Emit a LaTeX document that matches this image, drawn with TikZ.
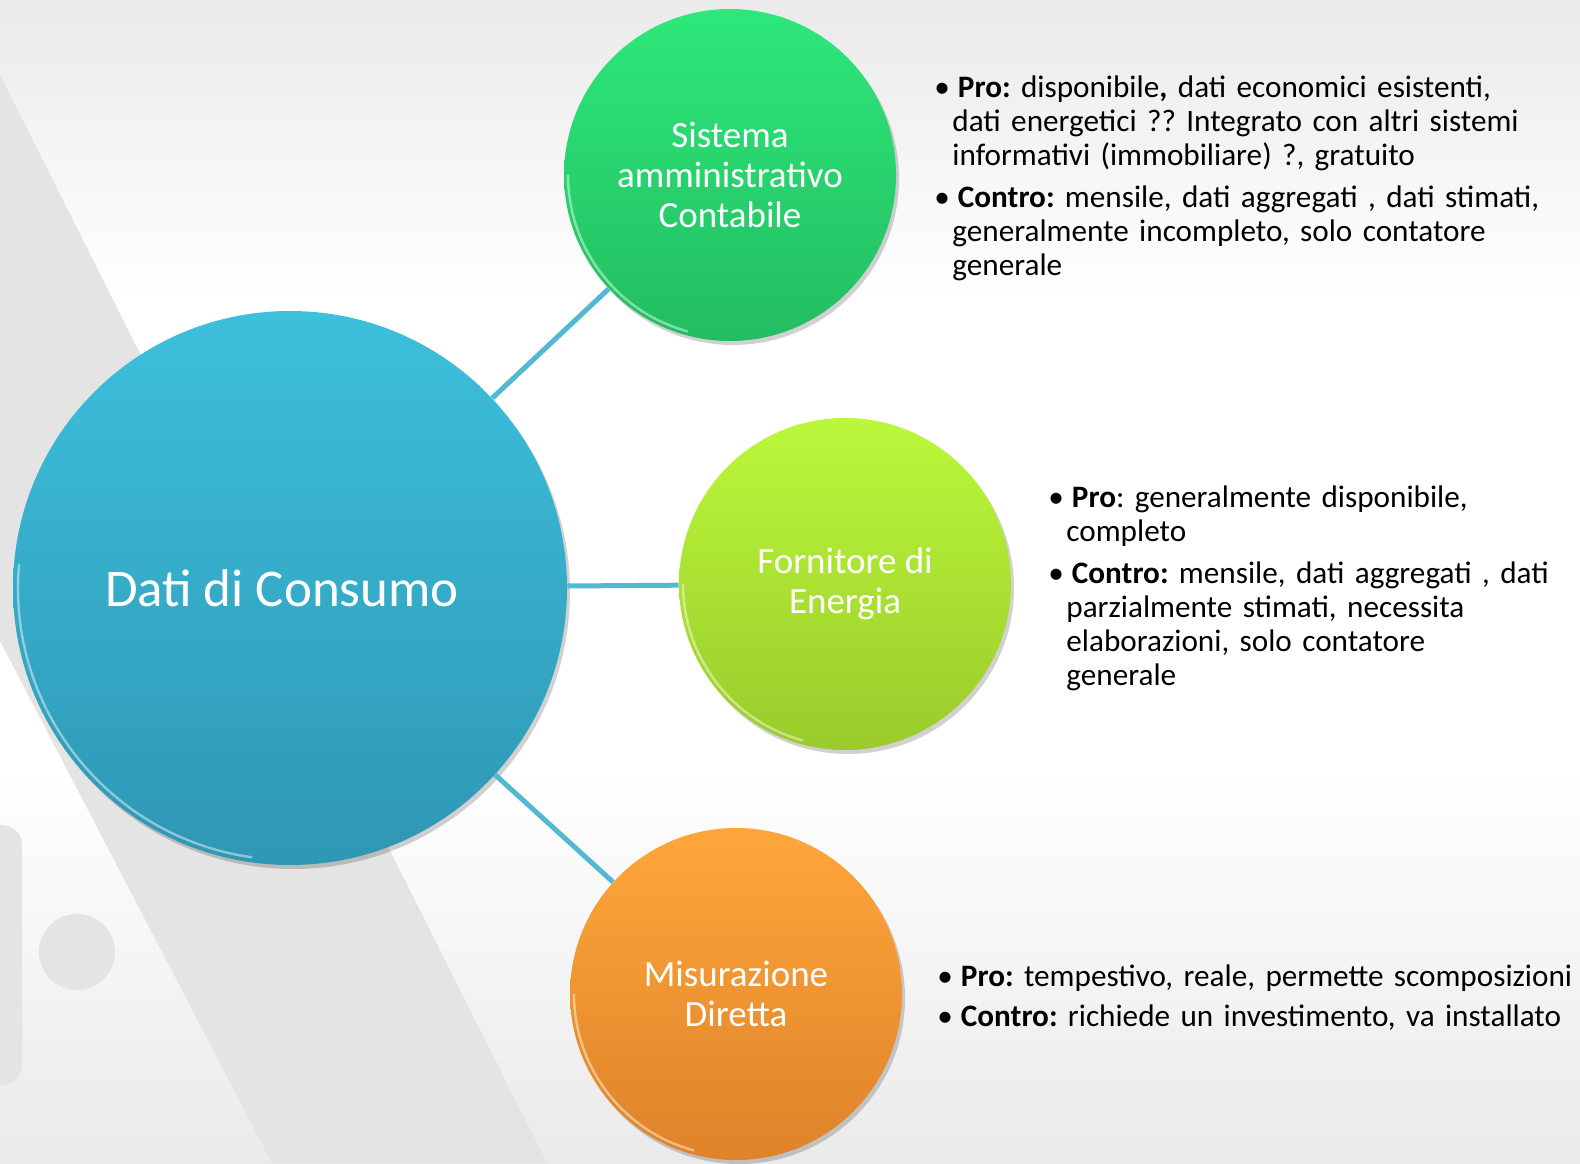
\documentclass[tikz,border=0pt]{standalone}
\usepackage{fontspec}
\setmainfont{Carlito}
\usepackage{enumitem}
\usetikzlibrary{shadows}
\frenchspacing

\definecolor{bgedge}{HTML}{EAEAEA}
\definecolor{bgband}{HTML}{E4E4E4}
\definecolor{linkblue}{HTML}{52B9D2}
\definecolor{hubtop}{HTML}{3DC0DD}
\definecolor{hubbot}{HTML}{2E97B4}
\definecolor{accttop}{HTML}{2EE87A}
\definecolor{acctbot}{HTML}{22BD61}
\definecolor{supptop}{HTML}{BBF83B}
\definecolor{suppbot}{HTML}{9ACB2B}
\definecolor{metertop}{HTML}{FFA63B}
\definecolor{meterbot}{HTML}{DE8329}

\setlist[itemize]{label=\textbullet, leftmargin=9pt, labelwidth=5pt, labelsep=4pt,
  align=left, topsep=0pt, partopsep=0pt, parsep=0pt, itemsep=4pt}

\tikzset{
  bubble/.style={circle, inner sep=0pt, minimum size=166pt, text=white, align=center,
    font=\fontsize{18.5}{20}\selectfont,
    drop shadow={fill=black, opacity=0.18, shadow xshift=1.5pt, shadow yshift=-2pt}},
  hubbubble/.style={bubble, minimum size=277pt, font=\fontsize{26.5}{28}\selectfont},
  link/.style={draw=linkblue, line width=2.5pt},
  rim/.style={draw=white, opacity=0.45, line width=1.2pt},
  notes/.style={anchor=north west, inner sep=0pt, text width=330pt, align=left,
    font=\fontsize{15.6}{17}\selectfont}
}

\begin{document}
\begin{tikzpicture}[x=0.5pt,y=0.5pt]
  \useasboundingbox (0,0) rectangle (1580,1163);
  %% background
  \begin{scope}
    \clip (0,0) rectangle (1580,1163);
    \fill[white] (0,0) rectangle (1580,1163);
    \shade[top color=bgedge, bottom color=white] (0,863) rectangle (1580,1163);
    \shade[top color=white, bottom color=bgedge] (0,0) rectangle (1580,393);
    \fill[bgband] (0,1088) -- (547,0) -- (272,0) -- (0,522) -- cycle;
    \fill[bgband, rounded corners=10pt] (-30,78) rectangle (22,338);
    \fill[bgband] (77,211) circle (38);
  \end{scope}

  %% bubbles
  \node[hubbubble, top color=hubtop, bottom color=hubbot] (hub) at (290,575)
    {\hspace*{-8pt}Dati di Consumo};
  \node[bubble, top color=accttop, bottom color=acctbot] (acct) at (730,988)
    {Sistema\\amministrativo\\Contabile};
  \node[bubble, top color=supptop, bottom color=suppbot] (supplier) at (845,579)
    {Fornitore di\\Energia};
  \node[bubble, top color=metertop, bottom color=meterbot] (meter) at (736,169)
    {Misurazione\\Diretta};

  %% rims
  \draw[rim] (hub.center) ++(175:272) arc[start angle=175, end angle=262, radius=272];
  \draw[rim] (acct.center) ++(180:162) arc[start angle=180, end angle=255, radius=162];
  \draw[rim] (supplier.center) ++(180:162) arc[start angle=180, end angle=255, radius=162];
  \draw[rim] (meter.center) ++(180:162) arc[start angle=180, end angle=255, radius=162];

  %% links
  \draw[link] (hub) -- (acct);
  \draw[link] (hub) -- (supplier);
  \draw[link] (hub) -- (meter);

  %% notes
  \node[notes] (acctnotes) at (934,1100) {%
    \begin{itemize}
      \item \textbf{Pro:} disponibile\textbf{,} dati economici esistenti,\\
        dati energetici ?? Integrato con altri sistemi\\
        informativi (immobiliare) ?, gratuito
      \item \textbf{Contro:} mensile, dati aggregati , dati stimati,\\
        generalmente incompleto, solo contatore\\
        generale
    \end{itemize}};
  \node[notes] (suppliernotes) at (1048,690) {%
    \begin{itemize}
      \item \textbf{Pro}: generalmente disponibile,\\
        completo
      \item \textbf{Contro:} mensile, dati aggregati , dati\\
        parzialmente stimati, necessita\\
        elaborazioni, solo contatore\\
        generale
    \end{itemize}};
  \node[notes] (meternotes) at (937,211) {%
    \begin{itemize}[itemsep=3pt]
      \item \textbf{Pro:} tempestivo, reale, permette scomposizioni
      \item \textbf{Contro:} richiede un investimento, va installato
    \end{itemize}};
\end{tikzpicture}
\end{document}
